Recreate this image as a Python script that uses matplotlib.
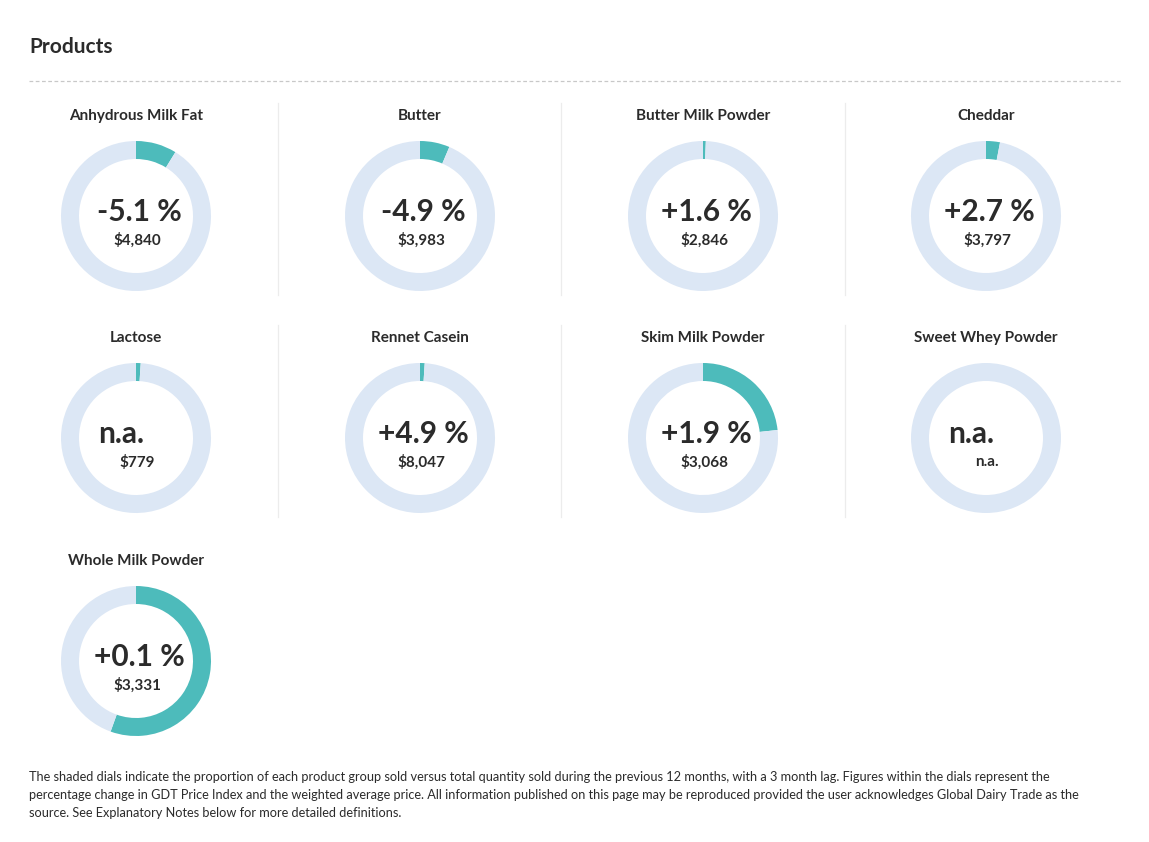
import matplotlib
matplotlib.use("Agg")
import matplotlib.pyplot as plt
from matplotlib.lines import Line2D

plt.rcParams['font.family'] = ['Lato', 'DejaVu Sans']

# dial data
products = ['Anhydrous Milk Fat', 'Butter', 'Butter Milk Powder', 'Cheddar',
            'Lactose', 'Rennet Casein', 'Skim Milk Powder', 'Sweet Whey Powder',
            'Whole Milk Powder']
changes = ['-5.1 %', '-4.9 %', '+1.6 %', '+2.7 %', 'n.a.', '+4.9 %', '+1.9 %', 'n.a.', '+0.1 %']
prices = ['$4,840', '$3,983', '$2,846', '$3,797', '$779', '$8,047', '$3,068', 'n.a.', '$3,331']
shares = [0.088, 0.064, 0.006, 0.03, 0.01, 0.01, 0.233, 0.0, 0.555]

footnote = ("The shaded dials indicate the proportion of each product group sold versus total quantity sold during the previous 12 months, with a 3 month lag. Figures within the dials represent the\n"
            "percentage change in GDT Price Index and the weighted average price. All information published on this page may be reproduced provided the user acknowledges Global Dairy Trade as the\n"
            "source. See Explanatory Notes below for more detailed definitions.")

W, H = 1149, 842
TEAL = '#4dbbbb'
LIGHT = '#dce7f5'
TXT = '#2b2b2b'

fig = plt.figure(figsize=(W / 100, H / 100), dpi=100)
fig.patch.set_facecolor('white')


def fx(x):
    return x / W


def fy(y):
    return 1 - y / H


fig.text(fx(29), fy(47), 'Products', fontsize=15, fontweight='bold', color=TXT,
         va='center', ha='left')
fig.add_artist(Line2D([fx(29), fx(1121)], [fy(81), fy(81)], color='#c8c8c8',
                      lw=0.9, ls=(0, (3, 2))))

col_x = [136, 420, 703, 986]
row_y = [216, 438, 661]
R = 75

# separators between columns
for r in range(2):
    top = row_y[r] - 113
    bot = row_y[r] + 79
    for sx in [278, 561, 845]:
        fig.add_artist(Line2D([fx(sx), fx(sx)], [fy(top), fy(bot)],
                              color='#ececec', lw=0.9))

for i, name in enumerate(products):
    cx = col_x[i % 4]
    cy = row_y[i // 4]
    ax = fig.add_axes([fx(cx - R), fy(cy + R), 2 * R / W, 2 * R / H])
    s = shares[i]
    if s > 0:
        vals, cols = [s, 1 - s], [TEAL, LIGHT]
    else:
        vals, cols = [1], [LIGHT]
    ax.pie(vals, colors=cols, startangle=90, counterclock=False,
           wedgeprops=dict(width=0.24, edgecolor='none'))
    ax.set_xlim(-1, 1)
    ax.set_ylim(-1, 1)
    ax.set_aspect('equal')
    ax.axis('off')

    fig.text(fx(cx), fy(cy - 100), name, fontsize=11, fontweight='bold', color=TXT,
             ha='center', va='center')
    if changes[i] == 'n.a.':
        fig.text(fx(cx - 38), fy(cy - 4), changes[i], fontsize=21.5, fontweight='bold',
                 color=TXT, ha='left', va='center')
    else:
        fig.text(fx(cx + 3), fy(cy - 4), changes[i], fontsize=21.5, fontweight='bold',
                 color=TXT, ha='center', va='center')
    fig.text(fx(cx + 1), fy(cy + 24), prices[i], fontsize=11, fontweight='bold',
             color=TXT, ha='center', va='center')

fig.text(fx(29), fy(771), footnote, fontsize=9.2, color=TXT, ha='left', va='top',
         linespacing=1.6)

fig.savefig('out.png', dpi=100, facecolor='white')
